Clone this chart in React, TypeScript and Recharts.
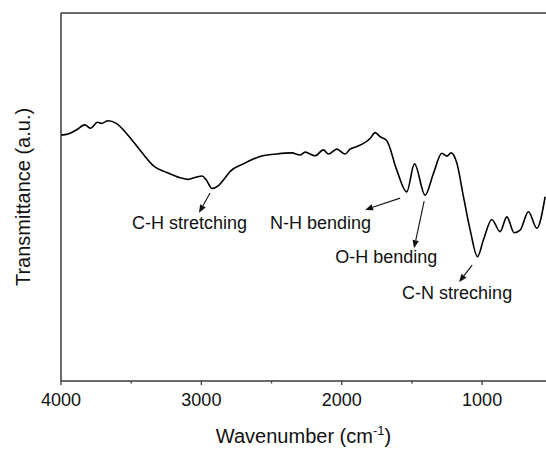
import React from 'react';
import { LineChart, Line, XAxis, YAxis, ReferenceLine, ReferenceDot } from 'recharts';

// FTIR spectrum (wavenumber in cm-1, transmittance in a.u.)
const wavenumbers = [
  4000, 3950, 3891, 3831, 3788, 3741, 3713, 3665, 3606, 3523, 3428, 3332, 3261, 3166, 3095, 3036,
  2995, 2965, 2924, 2881, 2843, 2796, 2701, 2582, 2463, 2356, 2297, 2261, 2190, 2131, 2095, 2035,
  1976, 1941, 1893, 1798, 1762, 1727, 1679, 1608, 1537, 1482, 1406, 1347, 1287, 1251, 1221, 1180,
  1133, 1085, 1033, 991, 931, 872, 824, 772, 729, 670, 610, 551,
];
const transmittance = [
  66.8, 67.1, 68.2, 69.6, 68.7, 70.3, 70.0, 70.7, 70.0, 66.8, 62.3, 58.2, 56.9, 55.4, 54.8, 55.4,
  55.7, 54.6, 52.3, 53.0, 54.6, 56.9, 59.0, 61.0, 61.7, 62.0, 61.4, 62.2, 61.2, 62.8, 61.7, 63.0,
  61.7, 63.0, 63.7, 65.9, 67.5, 66.4, 65.3, 57.3, 51.4, 59.0, 50.5, 56.4, 61.9, 61.1, 62.0, 59.2,
  50.1, 41.0, 33.8, 38.3, 43.9, 40.6, 44.6, 40.3, 41.0, 46.0, 41.5, 50.1,
];

const majorTicks = [4000, 3000, 2000, 1000];
const minorTicks = [3500, 2500, 1500];

// band assignments: label text, label anchor, arrow tail and arrow tip (data coords)
const annotationLabels = ['C-H stretching', 'N-H bending', 'O-H bending', 'C-N streching'];
const labelX = [3494, 2511, 2047, 1570];
const labelY = [41.3, 41.3, 32.0, 22.2];
const arrowFrom = [[2938, 51.1], [1584, 49.7], [1413, 48.9], [1071, 31.5]];
const arrowTo = [[3017, 45.7], [1834, 46.5], [1485, 36.1], [1164, 26.9]];

const data = wavenumbers.map((w, i) => ({ w, t: transmittance[i] }));

const FONT = 'Liberation Sans, Arial, sans-serif';
const AXIS = '#3a3a3a';

const TickMark = (props: any) => {
  const { x, y, payload } = props;
  const major = majorTicks.includes(payload.value);
  return (
    <g>
      <line x1={x} y1={y} x2={x} y2={y + (major ? 4 : 2.5)} stroke={AXIS} strokeWidth={1.3} />
      {major && (
        <text x={x} y={y + 25} textAnchor="middle" fontSize={18} fill="#111" fontFamily={FONT}>
          {payload.value}
        </text>
      )}
    </g>
  );
};

const Arrow = (props: any) => {
  const { x1, y1, x2, y2 } = props;
  const ang = Math.atan2(y2 - y1, x2 - x1);
  const len = 8;
  const half = 3.2;
  const bx = x2 - len * Math.cos(ang);
  const by = y2 - len * Math.sin(ang);
  const px = -Math.sin(ang) * half;
  const py = Math.cos(ang) * half;
  return (
    <g>
      <line x1={x1} y1={y1} x2={bx} y2={by} stroke="#111" strokeWidth={1.1} />
      <polygon points={`${x2},${y2} ${bx + px},${by + py} ${bx - px},${by - py}`} fill="#111" />
    </g>
  );
};

export default function App() {
  return (
    <div style={{ position: 'absolute', left: 8, top: 8, width: 538, height: 441, fontFamily: FONT }}>
      <LineChart width={538} height={441} data={data} margin={{ top: 5, right: 0, left: 52, bottom: 38 }}>
        <XAxis
          dataKey="w"
          type="number"
          domain={[545, 4000]}
          reversed
          allowDataOverflow
          ticks={[...majorTicks, ...minorTicks]}
          interval={0}
          height={30}
          tickSize={0}
          tickMargin={0}
          tickLine={false}
          tick={<TickMark />}
          axisLine={{ stroke: AXIS, strokeWidth: 1.5 }}
          label={{
            content: (p: any) => {
              const vb = p.viewBox;
              return (
                <text x={vb.x + vb.width / 2} y={vb.y + 62} textAnchor="middle" fontSize={20} fill="#111" fontFamily={FONT}>
                  Wavenumber (cm<tspan fontSize={13} dy={-8}>-1</tspan>
                  <tspan dy={8}>)</tspan>
                </text>
              );
            },
          }}
        />
        <YAxis
          type="number"
          domain={[0, 100]}
          width={1}
          tick={false}
          tickLine={false}
          axisLine={{ stroke: AXIS, strokeWidth: 1.5 }}
          label={{
            content: (p: any) => {
              const vb = p.viewBox;
              const cx = 15;
              const cy = vb.y + vb.height / 2;
              return (
                <text x={cx} y={cy} textAnchor="middle" dominantBaseline="central" fontSize={20} fill="#111" fontFamily={FONT} transform={`rotate(-90 ${cx} ${cy})`}>
                  Transmittance (a.u.)
                </text>
              );
            },
          }}
        />
        <ReferenceLine y={100} stroke={AXIS} strokeWidth={1.5} ifOverflow="visible" />
        <Line
          type="monotone"
          dataKey="t"
          stroke="#000"
          strokeWidth={1.6}
          dot={false}
          isAnimationActive={false}
        />
        {annotationLabels.map((lab, i) => (
          <ReferenceLine
            key={`arrow-${i}`}
            segment={[
              { x: arrowFrom[i][0], y: arrowFrom[i][1] },
              { x: arrowTo[i][0], y: arrowTo[i][1] },
            ]}
            ifOverflow="visible"
            shape={<Arrow />}
          />
        ))}
        {annotationLabels.map((lab, i) => (
          <ReferenceDot
            key={`label-${i}`}
            x={labelX[i]}
            y={labelY[i]}
            r={0}
            ifOverflow="visible"
            shape={(p: any) => (
              <text x={p.cx} y={p.cy} textAnchor="start" fontSize={18} fill="#111" fontFamily={FONT}>
                {lab}
              </text>
            )}
          />
        ))}
      </LineChart>
    </div>
  );
}
